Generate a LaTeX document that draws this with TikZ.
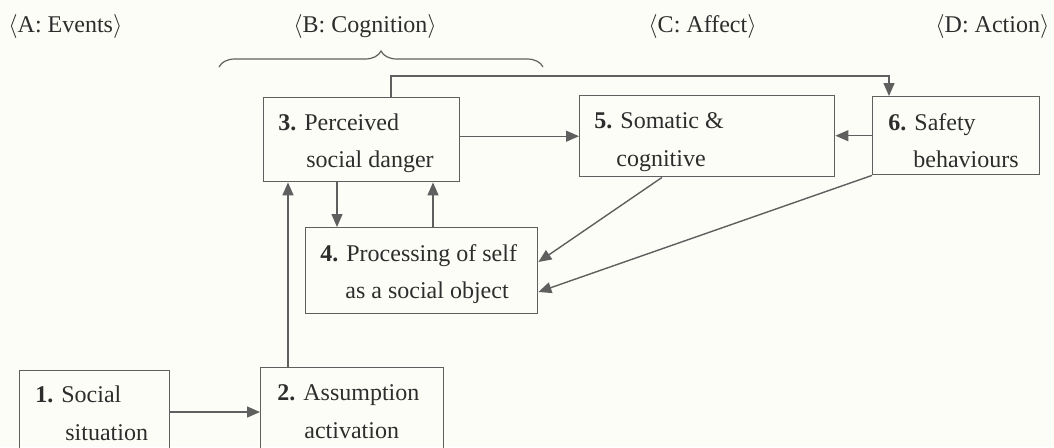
\documentclass[tikz,border=0pt]{standalone}
\usepackage{fontspec}
\setmainfont{Liberation Serif}
\usetikzlibrary{calc,arrows.meta,decorations.pathreplacing}
\definecolor{paper}{RGB}{253,253,247}
\definecolor{ink}{RGB}{45,45,45}
\definecolor{rule}{RGB}{95,95,95}
\tikzset{
  stagebox/.style={draw=rule, line width=0.7pt, rectangle, inner sep=0pt, anchor=north west},
  txt/.style={anchor=base west, inner sep=0pt, text=ink, font=\fontsize{12}{14}\selectfont},
  link/.style={draw=rule, line width=0.7pt, -{Triangle[length=6.5pt,width=5.5pt]}},
}
\begin{document}
\begin{tikzpicture}[x=0.5pt,y=-0.5pt]
  \fill[paper] (0,0) rectangle (1054,447);
  \useasboundingbox (0,0) rectangle (1054,447);
  \clip (0,0) rectangle (1054,447);

  % column headings
  \node[txt] (hA) at (8,32) {$\langle$A: Events$\rangle$};
  \node[txt] (hB) at (293,32) {$\langle$B: Cognition$\rangle$};
  \node[txt] (hC) at (648,32) {$\langle$C: Affect$\rangle$};
  \node[txt] (hD) at (935,32) {$\langle$D: Action$\rangle$};

  % brace over the cognition column
  \coordinate (brL) at (219,67);
  \coordinate (brR) at (543,67);
  \draw[rule, line width=0.6pt, decorate,
        decoration={brace, amplitude=8pt}] (brL) -- (brR);

  % boxes
  \node[stagebox, minimum width=75pt, minimum height=50pt] (b1) at (19,370) {};
  \node[stagebox, minimum width=91.5pt, minimum height=50pt] (b2) at (260,367) {};
  \node[stagebox, minimum width=98pt, minimum height=42pt] (b3) at (263,97) {};
  \node[stagebox, minimum width=116pt, minimum height=43pt] (b4) at (305,227) {};
  \node[stagebox, minimum width=127.5pt, minimum height=40.5pt] (b5) at (579,95) {};
  \node[stagebox, minimum width=83.5pt, minimum height=39pt] (b6) at (872,96) {};

  % box texts
  \node[txt] (t1a) at ($(b1.north west)+(16,32)$) {\textbf{1.} Social};
  \node[txt] (t1b) at ($(b1.north west)+(46,70)$) {situation};
  \node[txt] (t2a) at ($(b2.north west)+(17,33)$) {\textbf{2.} Assumption};
  \node[txt] (t2b) at ($(b2.north west)+(44,71)$) {activation};
  \node[txt] (t3a) at ($(b3.north west)+(15,33)$) {\textbf{3.} Perceived};
  \node[txt] (t3b) at ($(b3.north west)+(43,70)$) {social danger};
  \node[txt] (t4a) at ($(b4.north west)+(15,34)$) {\textbf{4.} Processing of self};
  \node[txt] (t4b) at ($(b4.north west)+(40,71)$) {as a social object};
  \node[txt] (t5a) at ($(b5.north west)+(15,33)$) {\textbf{5.} Somatic \&};
  \node[txt] (t5b) at ($(b5.north west)+(37,71)$) {cognitive};
  \node[txt] (t6a) at ($(b6.north west)+(16,34)$) {\textbf{6.} Safety};
  \node[txt] (t6b) at ($(b6.north west)+(41,71)$) {behaviours};

  % connectors
  \coordinate (s12) at ($(b1.north west)+(150,42)$);
  \draw[link] (s12) -- (s12 -| b2.west);

  \coordinate (s23) at ($(b2.north west)+(28,0)$);
  \draw[link] (s23) -- (s23 |- b3.south);

  \coordinate (s34) at ($(b3.south west)+(74,0)$);
  \draw[link] (s34) -- (s34 |- b4.north);

  \coordinate (s43) at ($(b4.north west)+(128,0)$);
  \draw[link] (s43) -- (s43 |- b3.south);

  \draw[link] (b3.east |- b5.west) -- (b5.west);
  \draw[link] (b6.west) -- (b6.west -| b5.east);

  \coordinate (s36) at ($(b3.north west)+(128,0)$);
  \coordinate (e36) at ($(b6.north west)+(17,0)$);
  \draw[link] (s36) -- ++(0,-21) -| (e36);

  \coordinate (s54) at ($(b5.south west)+(83,0)$);
  \coordinate (e54) at ($(b4.north east)+(0,35)$);
  \draw[link] (s54) -- (e54);

  \coordinate (e64) at ($(b4.north east)+(0,65)$);
  \draw[link] (b6.south west) -- (e64);
\end{tikzpicture}
\end{document}
